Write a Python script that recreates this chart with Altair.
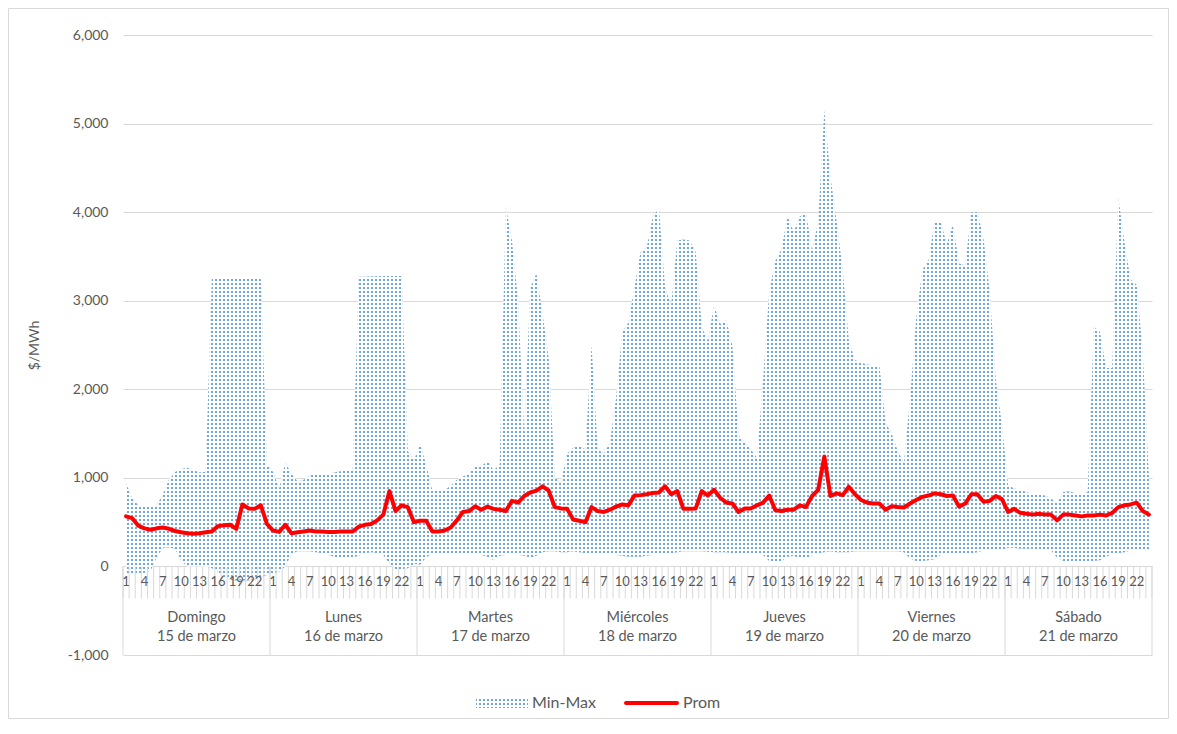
import math
import altair as alt
import pandas as pd

# ---------------- data ----------------
DAYS = ["Domingo", "Lunes", "Martes", "Miércoles", "Jueves", "Viernes", "Sábado"]
DATES = ["15 de marzo", "16 de marzo", "17 de marzo", "18 de marzo",
         "19 de marzo", "20 de marzo", "21 de marzo"]
HOURS = list(range(1, 25))
SHOWN_HOURS = [1, 4, 7, 10, 13, 16, 19, 22]

MAX_DOM = [940, 770, 690, 670, 680, 690, 815, 980, 1065, 1100, 1115, 1085, 1060, 1070,
           3250, 3250, 3250, 3250, 3250, 3250, 3250, 3250, 3250, 1150]
MAX_LUN = [1065, 880, 1170, 1045, 960, 980, 1025, 1045, 1045, 1045, 1060, 1075, 1085, 1085,
           3270, 3270, 3275, 3275, 3280, 3280, 3280, 3280, 1300, 1200]
MAX_MAR = [1380, 1150, 860, 850, 860, 910, 980, 1015, 1045, 1130, 1130, 1190, 1085, 1150,
           4060, 3680, 3000, 1500, 3150, 3310, 2850, 2350, 1000, 950]
MAX_MIE = [1275, 1340, 1360, 1320, 2500, 1320, 1275, 1400, 1900, 2640, 2750, 3150, 3550, 3600,
           3950, 4040, 3150, 2950, 3680, 3690, 3680, 3550, 2700, 2550]
MAX_JUE = [2950, 2740, 2780, 2490, 1480, 1400, 1320, 1230, 2100, 3100, 3450, 3580, 3950, 3780,
           3950, 4000, 3560, 3900, 5150, 4400, 3900, 3350, 2550, 2330]
MAX_VIE = [2300, 2280, 2270, 2260, 1620, 1500, 1300, 1170, 1900, 2800, 3350, 3450, 3890, 3890,
           3640, 3860, 3420, 3400, 4000, 4000, 3700, 3100, 2100, 1600]
MAX_SAB = [920, 880, 860, 840, 815, 815, 800, 770, 710, 840, 850, 825, 815, 840,
           2700, 2650, 2240, 2240, 4160, 3660, 3240, 3180, 2400, 1000]

MIN_DOM = [-80, -80, -80, -70, -50, 100, 210, 215, 200, 60, 0, 0, 0, 0,
           -20, -60, -120, -150, -160, -160, -160, -150, -120, -100]
MIN_LUN = [-80, -60, 0, 140, 170, 170, 170, 160, 150, 130, 110, 100, 90, 100,
           120, 150, 160, 150, 130, 30, -30, -40, -20, 30]
MIN_MAR = [20, 100, 150, 150, 140, 140, 150, 150, 140, 140, 130, 110, 70, 120,
           130, 130, 130, 120, 100, 120, 160, 170, 170, 160]
MIN_MIE = [160, 170, 160, 150, 150, 150, 150, 140, 130, 120, 110, 110, 110, 120,
           130, 140, 150, 150, 160, 170, 170, 170, 170, 165]
MIN_JUE = [160, 160, 160, 150, 150, 150, 150, 150, 130, 60, 50, 60, 110, 120,
           90, 80, 130, 150, 160, 170, 160, 160, 160, 170]
MIN_VIE = [170, 170, 170, 170, 170, 170, 170, 160, 90, 60, 60, 70, 80, 130,
           140, 140, 140, 150, 150, 160, 180, 180, 180, 190]
MIN_SAB = [210, 210, 200, 200, 200, 190, 190, 180, 100, 60, 60, 60, 60, 60,
           60, 70, 110, 140, 150, 160, 180, 190, 190, 190]

AVG_DOM = [565, 545, 460, 430, 415, 430, 440, 425, 400, 385, 375, 370, 375, 385,
           395, 455, 465, 470, 425, 700, 655, 650, 690, 480]
AVG_LUN = [405, 390, 470, 375, 385, 395, 405, 395, 395, 390, 390, 395, 395, 395,
           450, 470, 480, 520, 585, 850, 625, 690, 670, 500]
AVG_MAR = [515, 515, 395, 395, 405, 440, 520, 615, 625, 680, 640, 675, 650, 640,
           625, 740, 720, 795, 835, 855, 905, 855, 670, 655]
AVG_MIE = [650, 530, 515, 500, 670, 625, 615, 640, 675, 700, 690, 800, 805, 815,
           830, 835, 905, 815, 850, 650, 650, 655, 850, 800]
AVG_JUE = [865, 775, 720, 710, 615, 655, 655, 690, 720, 800, 635, 625, 640, 640,
           690, 670, 795, 865, 1240, 795, 825, 805, 900, 815]
AVG_VIE = [750, 720, 710, 710, 640, 680, 670, 665, 710, 750, 785, 800, 825, 815,
           795, 800, 675, 710, 815, 815, 730, 740, 795, 760]
AVG_SAB = [615, 650, 605, 595, 585, 595, 585, 585, 520, 585, 585, 575, 565, 575,
           575, 585, 575, 605, 670, 690, 700, 720, 625, 585]

MAXS = MAX_DOM + MAX_LUN + MAX_MAR + MAX_MIE + MAX_JUE + MAX_VIE + MAX_SAB
MINS = MIN_DOM + MIN_LUN + MIN_MAR + MIN_MIE + MIN_JUE + MIN_VIE + MIN_SAB
AVGS = AVG_DOM + AVG_LUN + AVG_MAR + AVG_MIE + AVG_JUE + AVG_VIE + AVG_SAB

N = len(DAYS) * len(HOURS)
df = pd.DataFrame({
    "idx": list(range(1, N + 1)),
    "hora": HOURS * len(DAYS),
    "min": MINS,
    "max": MAXS,
    "prom": AVGS,
})

hour_df = pd.DataFrame([
    {"idx": d * 24 + h, "label": str(h)}
    for d in range(len(DAYS)) for h in SHOWN_HOURS
])
day_df = pd.DataFrame({
    "center": [d * 24 + 12.5 for d in range(len(DAYS))],
    "dia": DAYS,
    "fecha": DATES,
})
tick_df = pd.DataFrame({"b": [k + 0.5 for k in range(N + 1)]})
sep_df = pd.DataFrame({"b": [d * 24 + 0.5 for d in range(len(DAYS) + 1)]})
one = pd.DataFrame({"k": [0]})

# ---------------- layout / style ----------------
W, H = 1029, 620
YMIN, YMAX = -1000, 6000
FONT = "Lato"
GREY = "#595959"
LINE = "#d9d9d9"
BLUE = "#6fa8e0"
CLEAR = "transparent"

def px(i):
    return (i - 0.5) / N * W

def py(v):
    return (YMAX - v) / (YMAX - YMIN) * H

def stripe_stops(lo, hi, period, on, c_on, c_off):
    span = hi - lo
    stops = []
    k = math.floor(lo / period)
    while k * period < hi:
        a = k * period
        for p0, p1, col in ((a, a + on, c_on), (a + on, a + period, c_off)):
            s0, s1 = max(p0, lo), min(p1, hi)
            if s1 > s0:
                o0 = min(1.0, max(0.0, round((s0 - lo) / span, 6)))
                o1 = min(1.0, max(0.0, round((s1 - lo) / span, 6)))
                stops.append(alt.GradientStop(offset=o0, color=col))
                stops.append(alt.GradientStop(offset=o1, color=col))
        k += 1
    return stops

def dot_fills(x0, x1, y0, y1):
    rows = alt.Gradient(gradient="linear", x1=0, y1=0, x2=0, y2=1,
                        stops=stripe_stops(y0, y1, 4, 2, BLUE, "#ffffff"))
    cols = alt.Gradient(gradient="linear", x1=0, y1=0, x2=1, y2=0,
                        stops=stripe_stops(x0, x1, 4, 2, CLEAR, "#ffffff"))
    return rows, cols

area_rows, area_cols = dot_fills(px(1), px(N), py(max(MAXS)), py(min(MINS)))

xscale = alt.Scale(domain=[0.5, N + 0.5], nice=False, zero=False)
yscale = alt.Scale(domain=[YMIN, YMAX], nice=False, zero=False)

yaxis = alt.Axis(
    values=list(range(YMIN, YMAX + 1, 1000)),
    labelExpr="datum.value < 0 ? '-' + format(-datum.value, ',') : format(datum.value, ',')",
    grid=True, gridColor=LINE, gridWidth=1,
    domain=False, ticks=False,
    labelFont=FONT, labelFontSize=14, labelColor=GREY, labelPadding=15,
    title="$/MWh", titleFont=FONT, titleFontSize=14, titleColor=GREY,
    titleFontWeight="normal", titlePadding=26,
)

base = alt.Chart(df)
x_enc = alt.X("idx:Q", scale=xscale, axis=None)

band_rows = base.mark_area(fill=area_rows, opacity=1, interpolate="linear").encode(
    x=x_enc, y=alt.Y("max:Q", scale=yscale, axis=yaxis, title="$/MWh"), y2="min:Q")
band_cols = base.mark_area(fill=area_cols, opacity=1, interpolate="linear").encode(
    x=x_enc, y=alt.Y("max:Q", scale=yscale, axis=yaxis, title="$/MWh"), y2="min:Q")

prom = base.mark_line(color="#ff0000", strokeWidth=4, strokeJoin="round",
                      strokeCap="round").encode(
    x=x_enc, y=alt.Y("prom:Q", scale=yscale, axis=yaxis, title="$/MWh"))

y_zero = py(0)
hour_ticks = alt.Chart(tick_df).mark_rule(color=LINE, strokeWidth=1).encode(
    x=alt.X("b:Q", scale=xscale, axis=None),
    y=alt.value(y_zero), y2=alt.value(y_zero + 32))
day_seps = alt.Chart(sep_df).mark_rule(color=LINE, strokeWidth=1).encode(
    x=alt.X("b:Q", scale=xscale, axis=None),
    y=alt.value(y_zero), y2=alt.value(H))

hour_text = alt.Chart(hour_df).mark_text(
    font=FONT, fontSize=13, color=GREY, baseline="middle", align="center").encode(
    x=alt.X("idx:Q", scale=xscale, axis=None), y=alt.value(y_zero + 16), text="label:N")
day_text = alt.Chart(day_df).mark_text(
    font=FONT, fontSize=14.5, color=GREY, baseline="middle", align="center").encode(
    x=alt.X("center:Q", scale=xscale, axis=None), y=alt.value(583), text="dia:N")
date_text = alt.Chart(day_df).mark_text(
    font=FONT, fontSize=14.5, color=GREY, baseline="middle", align="center").encode(
    x=alt.X("center:Q", scale=xscale, axis=None), y=alt.value(602), text="fecha:N")

# legend
LX0, LX1, LY0, LY1 = 353, 405, 663, 673
leg_rows, leg_cols = dot_fills(LX0, LX1, LY0, LY1)
leg_sw1 = alt.Chart(one).mark_rect(fill=leg_rows).encode(
    x=alt.value(LX0), x2=alt.value(LX1), y=alt.value(LY0), y2=alt.value(LY1))
leg_sw2 = alt.Chart(one).mark_rect(fill=leg_cols).encode(
    x=alt.value(LX0), x2=alt.value(LX1), y=alt.value(LY0), y2=alt.value(LY1))
leg_t1 = alt.Chart(one).mark_text(font=FONT, fontSize=16, color=GREY, align="left",
                                  baseline="middle", text="Min-Max").encode(
    x=alt.value(409), y=alt.value(668))
leg_line = alt.Chart(one).mark_rule(color="#ff0000", strokeWidth=4, strokeCap="round").encode(
    x=alt.value(503), x2=alt.value(554), y=alt.value(668))
leg_t2 = alt.Chart(one).mark_text(font=FONT, fontSize=16, color=GREY, align="left",
                                  baseline="middle", text="Prom").encode(
    x=alt.value(560), y=alt.value(668))

border = alt.Chart(one).mark_rect(fill="transparent", stroke=LINE, strokeWidth=1).encode(
    x=alt.value(-114.5), x2=alt.value(1045.5), y=alt.value(-26.5), y2=alt.value(683.5))

chart = alt.layer(
    band_rows, band_cols, hour_ticks, day_seps, hour_text, day_text, date_text,
    prom, leg_sw1, leg_sw2, leg_t1, leg_line, leg_t2, border,
).properties(
    width=W, height=H,
    autosize=alt.AutoSizeParams(type="none"),
    padding={"left": 115, "top": 27, "right": 17, "bottom": 64},
).configure_view(strokeWidth=0)

chart.save("out.html", embed_options={"renderer": "svg", "actions": False})
